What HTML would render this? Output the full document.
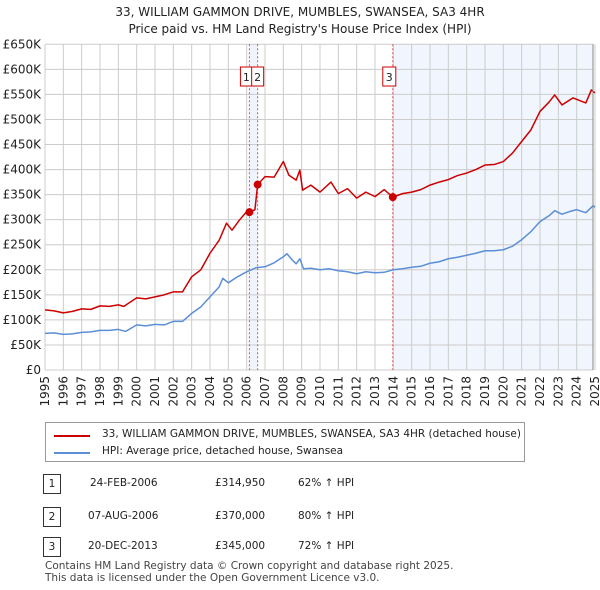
<!DOCTYPE html>
<html><head><meta charset="utf-8"><style>
body{margin:0;background:#fff;font-family:"DejaVu Sans",sans-serif;}
#wrap{position:relative;width:600px;height:590px;overflow:hidden;}
.t{position:absolute;font-size:11px;color:#222;white-space:nowrap;}
</style></head><body>
<div id="wrap">
<svg id="chart" width="600" height="420" style="position:absolute;left:0;top:0"></svg>
<div class="t" style="left:0;width:600px;text-align:center;top:4px;font-size:12px;line-height:17px">33, WILLIAM GAMMON DRIVE, MUMBLES, SWANSEA, SA3 4HR<br>Price paid vs. HM Land Registry's House Price Index (HPI)</div>
<div style="position:absolute;left:45px;top:422px;width:480px;height:40px;border:1px solid #999;box-sizing:border-box;">
 <div style="position:absolute;left:8px;top:12px;width:36px;height:2px;background:#cc0000"></div>
 <div class="t" style="left:56px;top:5px;font-size:10.5px">33, WILLIAM GAMMON DRIVE, MUMBLES, SWANSEA, SA3 4HR (detached house)</div>
 <div style="position:absolute;left:8px;top:29px;width:36px;height:2px;background:#5b8fd6"></div>
 <div class="t" style="left:56px;top:22px;font-size:10.5px">HPI: Average price, detached house, Swansea</div>
</div>
<div>
 <div class="t" style="left:43px;top:474px;width:16px;height:18px;border:1px solid #333;text-align:center;line-height:18px;font-size:10.5px">1</div>
 <div class="t" style="left:90px;top:477px;font-size:10.5px">24-FEB-2006</div>
 <div class="t" style="left:215px;top:477px;font-size:10.5px">£314,950</div>
 <div class="t" style="left:298px;top:477px;font-size:10.5px">62% ↑ HPI</div>
 <div class="t" style="left:43px;top:507px;width:16px;height:18px;border:1px solid #333;text-align:center;line-height:18px;font-size:10.5px">2</div>
 <div class="t" style="left:88px;top:510px;font-size:10.5px">07-AUG-2006</div>
 <div class="t" style="left:215px;top:510px;font-size:10.5px">£370,000</div>
 <div class="t" style="left:298px;top:510px;font-size:10.5px">80% ↑ HPI</div>
 <div class="t" style="left:43px;top:537px;width:16px;height:18px;border:1px solid #333;text-align:center;line-height:18px;font-size:10.5px">3</div>
 <div class="t" style="left:88px;top:540px;font-size:10.5px">20-DEC-2013</div>
 <div class="t" style="left:215px;top:540px;font-size:10.5px">£345,000</div>
 <div class="t" style="left:298px;top:540px;font-size:10.5px">72% ↑ HPI</div>
</div>
<div class="t" style="left:45px;top:560px;font-size:10.5px;line-height:12px;color:#444">Contains HM Land Registry data © Crown copyright and database right 2025.<br>This data is licensed under the Open Government Licence v3.0.</div>
</div>
<script>
const yTicks=[0,50,100,150,200,250,300,350,400,450,500,550,600,650];
const years=[1995,1996,1997,1998,1999,2000,2001,2002,2003,2004,2005,2006,2007,2008,2009,2010,2011,2012,2013,2014,2015,2016,2017,2018,2019,2020,2021,2022,2023,2024,2025];
const hpiDates=[1995,1995.5,1996,1996.5,1997,1997.5,1998,1998.5,1999,1999.4,2000,2000.5,2001,2001.5,2002,2002.5,2003,2003.5,2004,2004.5,2004.7,2005,2005.5,2006,2006.5,2007,2007.5,2008,2008.2,2008.5,2008.7,2008.9,2009.1,2009.5,2010,2010.5,2011,2011.5,2012,2012.5,2013,2013.5,2014,2014.5,2015,2015.5,2016,2016.5,2017,2017.5,2018,2018.5,2019,2019.5,2020,2020.5,2021,2021.5,2022,2022.5,2022.8,2023.2,2023.6,2024,2024.5,2024.9,2025];
const hpiValues=[73,74,71,72,75,76,79,79,81,77,90,88,91,90,97,97,113,126,146,166,183,174,186,196,204,206,214,226,232,219,212,222,202,203,200,202,198,196,192,196,194,195,200,202,205,207,213,216,222,225,229,233,238,238,240,247,260,276,296,308,318,311,316,320,314,328,325];
const saleDates=[1995,1995.5,1996,1996.5,1997,1997.5,1998,1998.5,1999,1999.3,2000,2000.5,2001,2001.5,2002,2002.5,2003,2003.5,2004,2004.5,2004.9,2005.2,2005.6,2006,2006.15,2006.45,2006.6,2007,2007.5,2008,2008.3,2008.7,2008.9,2009.05,2009.5,2010,2010.6,2011,2011.5,2012,2012.5,2013,2013.5,2013.97,2014.5,2015,2015.5,2016,2016.5,2017,2017.5,2018,2018.5,2019,2019.5,2020,2020.5,2021,2021.5,2022,2022.5,2022.8,2023.2,2023.8,2024.5,2024.8,2025];
const saleValues=[120,118,114,117,122,121,128,127,130,127,144,142,146,150,156,156,186,200,233,259,293,279,299,316,314.95,320,370,386,385,416,389,379,399,359,369,355,375,352,362,343,355,346,360,345,352,355,360,369,375,380,388,393,400,409,410,416,433,456,479,516,535,549,529,543,533,559,553];
const sales=[[2006.15,314.95,"1"],[2006.6,370,"2"],[2013.97,345,"3"]];
const NS="http://www.w3.org/2000/svg";
const svg=document.getElementById('chart');
const X0=45,X1=595,Y0=370,Y1=44.3;
const FF='DejaVu Sans, sans-serif';
const xs=d=>X0+(d-1995)/30*(X1-X0);
const ys=v=>Y0-v/650*(Y0-Y1);
function mk(tag,attrs,parent){const e=document.createElementNS(NS,tag);for(const k in attrs)e.setAttribute(k,attrs[k]);(parent||svg).appendChild(e);return e;}
let s1=mk('rect',{x:xs(2006.15),y:Y1,width:xs(2006.6)-xs(2006.15),height:Y0-Y1,fill:'#eef3fc'});


let s2=mk('rect',{x:xs(2013.97),y:Y1,width:X1-2-xs(2013.97),height:Y0-Y1,fill:'#f1f5fd'});


yTicks.forEach(v=>{
 let l=mk('line',{x1:X0,x2:X1-2,y1:ys(v),y2:ys(v),stroke:'#cccccc','stroke-width':1});
 
 
 let t=mk('text',{x:X0-4,y:ys(v)+4,'text-anchor':'end','font-size':12,fill:'#222','font-family':FF});
 t.textContent=v===0?'£0':'£'+v+'K';
 
 
});
years.forEach(y=>{
 let l=mk('line',{x1:xs(y),x2:xs(y),y1:Y1,y2:Y0,stroke:'#cccccc','stroke-width':1});
 
 
 let t=mk('text',{transform:`translate(${xs(y)+4},${Y0+6}) rotate(-90)`,'text-anchor':'end','font-size':12,fill:'#222','font-family':FF});
 t.textContent=y;
 
 
});
sales.forEach(s=>{
 let l=mk('line',{x1:xs(s[0]),x2:xs(s[0]),y1:Y1,y2:Y0,stroke:'#e05050','stroke-width':1,'stroke-dasharray':'2,2'});
 
 
});
function line(ds,vs,color,name){
 let p=mk('polyline',{points:ds.map((d,i)=>xs(d)+','+ys(vs[i])).join(' '),fill:'none',stroke:color,'stroke-width':1.5,'stroke-linejoin':'round'});
 
 
}
line(hpiDates,hpiValues,'#5b8fd6','hpi-line');
line(saleDates,saleValues,'#cc0000','property-price-line');
sales.forEach((s,i)=>{
 let c=mk('circle',{cx:xs(s[0]),cy:ys(s[1]),r:4,fill:'#cc0000'});
 
 
 let bx=i===0?xs(s[0])-9:(i===1?xs(s[0])-6:xs(s[0])-10);
 let r=mk('rect',{x:bx,y:67,width:i===2?13:12,height:19,fill:'#fff',stroke:'#cc0000','stroke-width':1});
 
 
 let t=mk('text',{x:bx+(i===2?6.5:6),y:81,'text-anchor':'middle','font-size':11,fill:'#222','font-family':FF});
 t.textContent=s[2];
 
 
});
let ax=mk('line',{x1:X1-2,x2:X1-2,y1:Y1,y2:Y0,stroke:'#888','stroke-width':1});


</script>
</body></html>
